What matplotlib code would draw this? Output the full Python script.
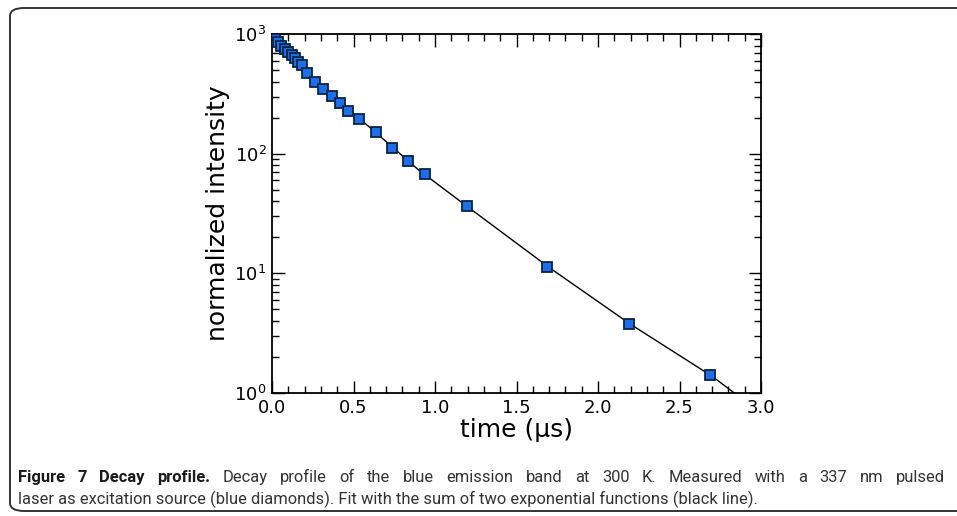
import numpy as np
import matplotlib
matplotlib.use("Agg")
import matplotlib.pyplot as plt
from matplotlib.patches import FancyBboxPatch
from matplotlib.ticker import MultipleLocator, LogLocator

# measured decay (blue squares)
t_data = [0.018, 0.038, 0.058, 0.079, 0.099, 0.120, 0.140, 0.161, 0.182,
          0.213, 0.264, 0.315, 0.366, 0.417, 0.466, 0.536, 0.636, 0.734,
          0.836, 0.938, 1.194, 1.687, 2.190, 2.690]
i_data = [906, 850, 800, 752, 708, 666, 627, 588, 550,
          472, 399, 347, 303, 266, 228, 194, 153, 112,
          87, 68, 36.5, 11.3, 3.79, 1.42]

# fit curve (black line)
t_fit = [0.0, 0.1, 0.2, 0.4, 0.6, 0.9, 1.2, 1.7, 2.2, 2.7, 2.9]
i_fit = [960, 710, 500, 276, 166, 73, 36, 11.2, 3.75, 1.38, 0.86]

x_ticks = [0.0, 0.5, 1.0, 1.5, 2.0, 2.5, 3.0]
caption_bold = "Figure 7 Decay profile."
caption_1 = ("Decay profile of the blue emission band at 300 K. "
             "Measured with a 337 nm pulsed")
caption_2 = ("laser as excitation source (blue diamonds). "
             "Fit with the sum of two exponential functions (black line).")

W, H = 957, 516
fig = plt.figure(figsize=(W / 100, H / 100), dpi=100)

# rounded frame around the figure panel (right side runs off the page)
frame = FancyBboxPatch((10 / W, 5 / H), 1.05, 1 - 13 / H,
                       boxstyle="round,pad=0,rounding_size=0.015",
                       transform=fig.transFigure, fill=False,
                       edgecolor="#333333", linewidth=1.4, clip_on=False)
fig.patches.append(frame)

ax = fig.add_axes([272 / W, 1 - 393 / H, 489 / W, 359 / H])
ax.plot(t_fit, i_fit, color="black", linewidth=1.0, zorder=2)
ax.plot(t_data, i_data, linestyle="none", marker="s", markersize=7.2,
        markerfacecolor="#1c6fe8", markeredgecolor="#0b2348",
        markeredgewidth=1.3, zorder=3)

ax.set_yscale("log")
ax.set_xlim(0, 3.0)
ax.set_ylim(1, 1000)
ax.set_xticks(x_ticks)
ax.xaxis.set_minor_locator(MultipleLocator(0.1))
ax.yaxis.set_major_locator(LogLocator(base=10, numticks=10))
ax.yaxis.set_minor_locator(LogLocator(base=10, subs=np.arange(2, 10), numticks=10))

ax.tick_params(which="both", direction="in", top=True, right=True,
               labelsize=13, width=1.0, color="black")
ax.tick_params(which="major", length=9, pad=4)
ax.tick_params(which="minor", length=5)
for s in ax.spines.values():
    s.set_linewidth(1.3)

ax.set_xlabel("time (µs)", fontsize=18, labelpad=1)
ax.set_ylabel("normalized intensity", fontsize=18, labelpad=3)

# caption; size chosen so line 2 is ~740 px wide like the reference
renderer = fig.canvas.get_renderer()
cap_family = ["Roboto", "DejaVu Sans"]
left, right = 18, 945
line2 = fig.text(left / W, 1 - 504 / H, caption_2, fontsize=12,
                 family=cap_family, color="#333333")
size = 12 * 740 / line2.get_window_extent(renderer).width
line2.set_fontsize(size)

# first line is justified between left and right
words = [(w, "bold") for w in caption_bold.split()] + \
        [(w, "normal") for w in caption_1.split()]
texts = []
for w, weight in words:
    t = fig.text(0, 1 - 482 / H, w, fontweight=weight, fontsize=size,
                 family=cap_family,
                 color="#1a1a1a" if weight == "bold" else "#333333")
    texts.append(t)
widths = [t.get_window_extent(renderer).width for t in texts]
gap = (right - left - sum(widths)) / (len(texts) - 1)
x = left
for t, w in zip(texts, widths):
    t.set_x(x / W)
    x += w + gap

fig.savefig("out.png", dpi=100)
